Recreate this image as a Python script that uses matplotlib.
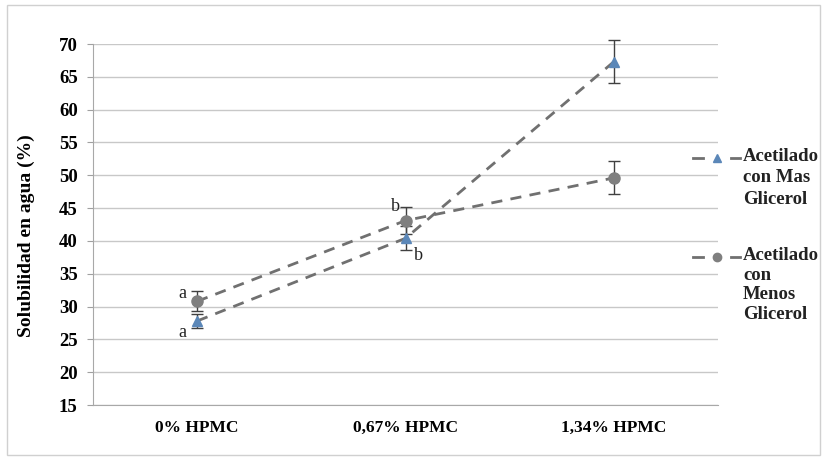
import matplotlib
matplotlib.use("Agg")
import matplotlib.pyplot as plt
from matplotlib.patches import Rectangle
from matplotlib.lines import Line2D

categories = ["0% HPMC", "0,67% HPMC", "1,34% HPMC"]
mas_values = [27.8, 40.4, 67.3]
mas_err = [1.0, 1.8, 3.3]
menos_values = [30.8, 43.1, 49.6]
menos_err = [1.5, 2.0, 2.5]
series_labels = ["Acetilado\ncon Mas\nGlicerol", "Acetilado\ncon\nMenos\nGlicerol"]
letters = [("a", 0, 32.0), ("a", 0, 26.0), ("b", 1, 45.3), ("b", 1, 37.8)]
letter_dx = [-0.07, -0.07, -0.05, 0.06]

plt.rcParams['font.family'] = ['Liberation Serif', 'DejaVu Serif']

W, H = 826, 457
fig = plt.figure(figsize=(W / 100, H / 100), dpi=100)
fig.patches.append(Rectangle((0.008, 0.005), 0.985, 0.985, transform=fig.transFigure,
                             fill=False, edgecolor='#d0d0d0', lw=1.0))
ax = fig.add_axes([93 / W, 1 - 405 / H, 625 / W, 361 / H])

x = list(range(len(categories)))
line_color = '#707070'
blue = '#5b87b8'
gray = '#7f7f7f'
dash = (0, (4, 3))
for vals, err, mk, ms, fc in [(mas_values, mas_err, '^', 7, blue),
                              (menos_values, menos_err, 'o', 8, gray)]:
    cont = ax.errorbar(x, vals, yerr=err, color=line_color, ls=dash, lw=2.0,
                       marker=mk, markersize=ms, markerfacecolor=fc, markeredgecolor=fc,
                       ecolor='#404040', elinewidth=1.0, capsize=4, zorder=3)
    for art in cont.get_children():
        art.set_clip_on(False)

for (t, i, yv), dx in zip(letters, letter_dx):
    ax.text(i + dx, yv, t, fontsize=13, ha='center', va='center', color='#222222')

ax.set_xlim(-0.5, 2.5)
ax.set_ylim(15, 70)
ax.set_yticks(range(15, 71, 5))
ax.set_xticks(x)
ax.set_xticklabels(categories, fontsize=12.5, fontweight='bold')
ax.tick_params(axis='x', length=0, pad=11)
ax.tick_params(axis='y', length=4, color='#a0a0a0', labelsize=13.5, pad=7)
for lab in ax.get_yticklabels():
    lab.set_fontweight('bold')
ax.grid(axis='y', color='#c8c8c8', lw=1.0)
ax.set_axisbelow(True)
for s in ['top', 'right']:
    ax.spines[s].set_visible(False)
for s in ['left', 'bottom']:
    ax.spines[s].set_color('#a8a8a8')
ax.set_ylabel("Solubilidad en agua (%)", fontsize=14, fontweight='bold')
ax.yaxis.set_label_coords(-0.093, 0.47)

# manual legend
legend_rows = [(158, '^', 6, blue, 1.33), (257, 'o', 6, gray, 1.2)]
for (yc, mk, ms, fc, lsp), lab in zip(legend_rows, series_labels):
    yf = 1 - yc / H
    for x0, x1 in [(693, 703), (731, 740)]:
        fig.add_artist(Line2D([x0 / W, x1 / W], [yf, yf], transform=fig.transFigure,
                              color=line_color, lw=2))
    fig.add_artist(Line2D([717 / W], [yf], transform=fig.transFigure, marker=mk,
                          markersize=ms, markerfacecolor=fc, markeredgecolor=fc, ls='none'))
    fig.text(743 / W, 1 - (yc - 10) / H, lab, fontsize=13.5, fontweight='bold',
             ha='left', va='top', linespacing=lsp, color='#222222')

fig.savefig("out.png", dpi=100)
